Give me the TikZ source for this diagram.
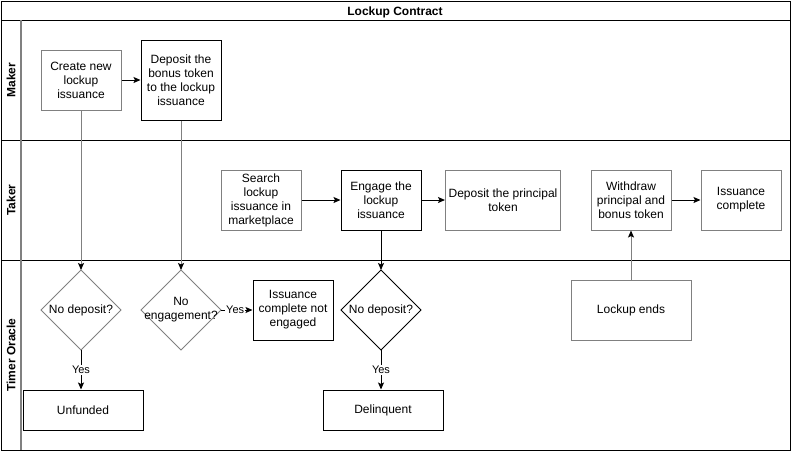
\documentclass[tikz,border=0pt]{standalone}
\usepackage{fontspec}
\setmainfont{Liberation Sans}
\usetikzlibrary{shapes.geometric,arrows.meta}
\definecolor{edgegray}{HTML}{808080}
\begin{document}
\begin{tikzpicture}[x=1pt,y=-1pt,
  font=\fontsize{12}{14}\selectfont,
  box/.style={draw=#1, line width=1pt, fill=white, align=center, inner sep=2pt},
  box/.default=black,
  dia/.style={draw=#1, diamond, line width=0.8pt, minimum width=80pt, minimum height=80pt, inner sep=0pt, outer sep=0pt},
  dia/.default=edgegray,
  flow/.style={draw=#1, line width=1pt, -{Stealth[length=7pt,width=6pt,inset=1.5pt,color=black]}},
  flow/.default=black,
  lanelabel/.style={rotate=90, font=\fontsize{12}{14}\selectfont\bfseries},
  yeslabel/.style={fill=white, inner sep=1pt, font=\fontsize{11}{12}\selectfont}
]
\useasboundingbox (0,0) rectangle (791,451);
% frame
\draw[line width=1pt] (1,1) rectangle (790,450);
\draw[line width=1pt] (1,20) -- (790,20);
\draw[line width=1pt] (21,140) -- (790,140);
\draw[line width=1pt] (21,260) -- (790,260);
\draw[line width=1pt] (1,140) -- (21,140);
\draw[line width=1pt] (1,260) -- (21,260);
\draw[edgegray, line width=1.5pt] (21,20) -- (21,450);
\node[font=\fontsize{12}{14}\selectfont\bfseries] (title) at (395,12) {Lockup Contract};
\node[lanelabel] (lmaker) at (11,80) {Maker};
\node[lanelabel] (ltaker) at (11,200) {Taker};
\node[lanelabel] (loracle) at (11,355) {Timer Oracle};
% Maker lane
\node[box=edgegray, minimum width=80pt, minimum height=60pt] (create) at (81,80) {Create new\\lockup\\issuance};
\node[box, minimum width=80pt, minimum height=80pt] (bonus) at (181,80) {Deposit the\\bonus token\\to the lockup\\issuance};
% Taker lane
\node[box=edgegray, minimum width=80pt, minimum height=60pt] (search) at (261,200) {Search\\lockup\\issuance in\\marketplace};
\node[box, minimum width=80pt, minimum height=60pt] (engage) at (381,200) {Engage the\\lockup\\issuance};
\node[box=edgegray, minimum width=115pt, minimum height=60pt] (principal) at (503,200) {Deposit the principal\\token};
\node[box=edgegray, minimum width=80pt, minimum height=60pt] (withdraw) at (631,200) {Withdraw\\principal and\\bonus token};
\node[box=edgegray, minimum width=80pt, minimum height=60pt] (complete) at (741,200) {Issuance\\complete};
% Oracle lane
\node[dia] (d1) at (81,310) {};
\node[align=center] (d1t) at (d1) {No deposit?};
\node[dia] (d2) at (181,310) {};
\node[align=center] (d2t) at (d2) {No\\engagement?};
\node[dia=black] (d3) at (381,310) {};
\node[align=center] (d3t) at (d3) {No deposit?};
\node[box, minimum width=80pt, minimum height=60pt] (notengaged) at (293,310) {Issuance\\complete not\\engaged};
\node[box, minimum width=120pt, minimum height=40pt] (unfunded) at (83,410) {Unfunded};
\node[box, minimum width=120pt, minimum height=40pt] (delinquent) at (383,410) {Delinquent};
\node[box=edgegray, minimum width=120pt, minimum height=60pt] (lockupends) at (631,310) {Lockup ends};
% connectors
\draw[flow] (create) -- (bonus);
\draw[flow=edgegray] (create.south) -- (d1.north);
\draw[flow=edgegray] (bonus.south) -- (d2.north);
\draw[flow] (search) -- (engage);
\draw[flow] (engage) -- (principal);
\draw[flow] (engage.south) -- (d3.north);
\draw[flow] (withdraw) -- (complete);
\draw[flow=edgegray] (lockupends.north) -- (withdraw.south);
\draw[flow] (d1.south) -- node[yeslabel, pos=0.5] (y1) {Yes} (d1.south |- unfunded.north);
\draw[flow] (d2.east) -- node[yeslabel, pos=0.45] (y2) {Yes} (notengaged.west);
\draw[flow] (d3.south) -- node[yeslabel, pos=0.5] (y3) {Yes} (d3.south |- delinquent.north);
\end{tikzpicture}
\end{document}
